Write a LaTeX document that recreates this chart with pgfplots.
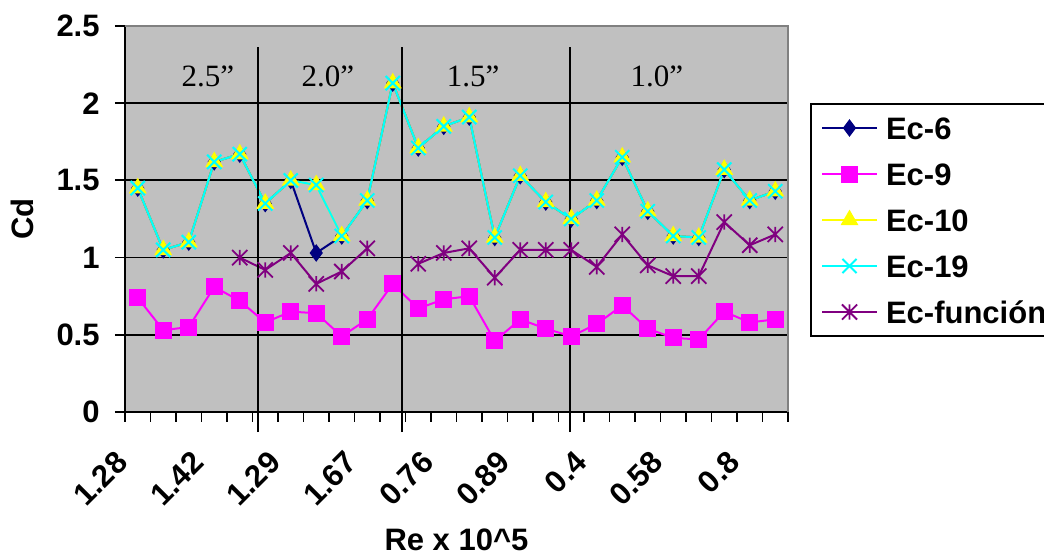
\documentclass[border=0pt]{standalone}
\usepackage{fontspec}
\setmainfont{Liberation Sans}
\newfontfamily\timesfont{Liberation Serif}
\usepackage{pgfplots}
\usepackage{pgfplotstable}
\pgfplotsset{compat=1.18}
\definecolor{ecsix}{HTML}{000080}
\definecolor{ecnine}{HTML}{FF00FF}
\definecolor{ecten}{HTML}{FFFF00}
\definecolor{ecnineteen}{HTML}{00FFFF}
\definecolor{ecfun}{HTML}{800080}
\definecolor{plotbg}{HTML}{C0C0C0}
\definecolor{borderg}{HTML}{808080}

\pgfdeclareplotmark{xstar}{%
  \pgfpathmoveto{\pgfqpoint{-\pgfplotmarksize}{-\pgfplotmarksize}}%
  \pgfpathlineto{\pgfqpoint{\pgfplotmarksize}{\pgfplotmarksize}}%
  \pgfpathmoveto{\pgfqpoint{-\pgfplotmarksize}{\pgfplotmarksize}}%
  \pgfpathlineto{\pgfqpoint{\pgfplotmarksize}{-\pgfplotmarksize}}%
  \pgfpathmoveto{\pgfqpoint{0pt}{-\pgfplotmarksize}}%
  \pgfpathlineto{\pgfqpoint{0pt}{\pgfplotmarksize}}%
  \pgfusepathqstroke}

\pgfplotstableread{
x  e6   e9   e10  e19  ef
1  1.45 0.74 1.45 1.45 nan
2  1.05 0.53 1.05 1.05 nan
3  1.10 0.55 1.10 1.10 nan
4  1.62 0.81 1.62 1.62 nan
5  1.67 0.72 1.67 1.67 1.00
6  1.35 0.58 1.35 1.35 0.92
7  1.50 0.65 1.50 1.50 1.03
8  1.03 0.64 1.47 1.47 0.83
9  1.14 0.49 1.14 1.14 0.91
10 1.37 0.60 1.37 1.37 1.06
11 2.13 0.83 2.13 2.13 nan
12 1.71 0.67 1.71 1.71 0.96
13 1.85 0.73 1.85 1.85 1.03
14 1.91 0.75 1.91 1.91 1.06
15 1.13 0.46 1.13 1.13 0.87
16 1.53 0.60 1.53 1.53 1.05
17 1.36 0.54 1.36 1.36 1.05
18 1.25 0.49 1.25 1.25 1.05
19 1.37 0.57 1.37 1.37 0.94
20 1.65 0.69 1.65 1.65 1.15
21 1.30 0.54 1.30 1.30 0.95
22 1.14 0.48 1.14 1.14 0.88
23 1.13 0.47 1.13 1.13 0.88
24 1.57 0.65 1.57 1.57 1.23
25 1.37 0.58 1.37 1.37 1.08
26 1.43 0.60 1.43 1.43 1.15
}\datatable

\newcommand{\bigbf}{\fontsize{15.5}{18}\selectfont\bfseries}

\begin{document}
\begin{tikzpicture}
\useasboundingbox (-62.5pt,-72pt) rectangle (459.5pt,206pt);
\begin{axis}[
  at={(0pt,0pt)}, anchor=south west,
  scale only axis, width=331.5pt, height=193pt,
  xmin=0.5, xmax=26.5, ymin=0, ymax=2.5,
  clip=false,
  unbounded coords=jump,
  axis background/.style={fill=plotbg},
  axis x line*=bottom, axis y line*=left,
  axis line style={line width=1pt, -, black},
  ytick={0,0.5,1,1.5,2,2.5},
  yticklabels={0,0.5,1,1.5,2,2.5},
  minor ytick={0,0.5,1,1.5,2,2.5},
  ymajorgrids, grid style={black, line width=0.9pt},
  xtick={1,4,...,25},
  xticklabels={1.28,1.42,1.29,1.67,0.76,0.89,0.4,0.58,0.8},
  minor xtick={0.5,1.5,...,26.5},
  tick align=outside, major tick length=0pt, minor tick length=5pt,
  tick style={black, line width=0.9pt},
  xticklabel style={font=\bigbf, rotate=45, anchor=north east, inner sep=0pt, xshift=-21.4pt, yshift=-4.6pt},
  yticklabel style={font=\bigbf, anchor=east, inner sep=0pt, xshift=-12.5pt},
  xlabel={Re x 10\textasciicircum 5},
  ylabel={Cd},
  xlabel style={font=\bigbf, at={(rel axis cs:0.5,-0.332)}, anchor=center, inner sep=0pt},
  ylabel style={font=\bigbf, at={(rel axis cs:-0.155,0.5)}, anchor=center, inner sep=0pt},
  legend image code/.code={
    \draw[mark repeat=2,mark phase=2] plot coordinates {(0pt,0pt) (13.75pt,0pt) (27.5pt,0pt)};
  },
  legend cell align=left,
  legend style={at={(rel axis cs:1.0332,0.8005)}, anchor=north west,
    draw=black, line width=1pt, fill=white, font=\bigbf,
    inner xsep=5pt, inner ysep=6.5pt, row sep=12pt, column sep=4pt,
    nodes={inner sep=0pt, text height=11pt, text depth=0pt}},
]
\addplot[ecsix, line width=1pt, mark=diamond*, mark size=3.6pt, mark options={fill=ecsix, draw=ecsix}] table[x=x, y=e6] {\datatable};
\addlegendentry{Ec-6}
\addplot[ecnine, line width=1pt, mark=square*, mark size=3.75pt, mark options={fill=ecnine, draw=ecnine}] table[x=x, y=e9] {\datatable};
\addlegendentry{Ec-9}
\addplot[ecten, line width=1pt, mark=triangle*, mark size=4.2pt, mark options={fill=ecten, draw=ecten}] table[x=x, y=e10] {\datatable};
\addlegendentry{Ec-10}
\addplot[ecnineteen, line width=1pt, mark=x, mark size=5pt, mark options={draw=ecnineteen, line width=1pt}] table[x=x, y=e19] {\datatable};
\addlegendentry{Ec-19}
\addplot[ecfun, line width=1pt, mark=xstar, mark size=3.8pt, mark options={draw=ecfun, line width=0.9pt}] table[x=x, y=ef] {\datatable};
\addlegendentry{Ec-función\hspace*{12pt}}
% plot area border (top/right)
\draw[borderg, line width=1pt] (rel axis cs:0,1) -- (rel axis cs:1,1) -- (rel axis cs:1,0);
% section dividers
\draw[black, line width=1pt] (axis cs:5.716,-0.13) -- (axis cs:5.716,2.364);
\draw[black, line width=1pt] (axis cs:11.36,-0.13) -- (axis cs:11.36,2.364);
\draw[black, line width=1pt] (axis cs:17.95,-0.13) -- (axis cs:17.95,2.364);
\node[font=\timesfont\fontsize{15.5}{18}\selectfont] at (axis cs:3.75,2.176) {2.5”};
\node[font=\timesfont\fontsize{15.5}{18}\selectfont] at (axis cs:8.46,2.176) {2.0”};
\node[font=\timesfont\fontsize{15.5}{18}\selectfont] at (axis cs:14.15,2.176) {1.5”};
\node[font=\timesfont\fontsize{15.5}{18}\selectfont] at (axis cs:21.36,2.176) {1.0”};
\end{axis}
\end{tikzpicture}
\end{document}
